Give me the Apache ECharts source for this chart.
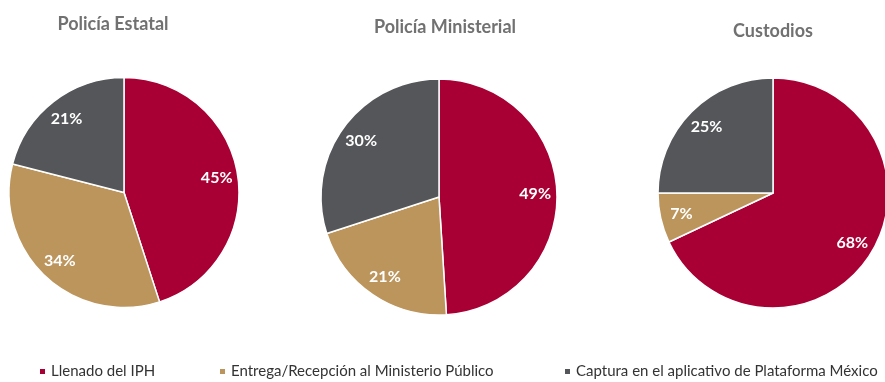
<!DOCTYPE html>
<html><head><meta charset="utf-8">
<script src="https://cdn.jsdelivr.net/npm/echarts@6/dist/echarts.min.js"></script>
<style>html,body{margin:0;padding:0;background:#fff}#c{width:885px;height:382px}</style>
</head><body><div id="c"></div>
<script>
const categories = ['Llenado del IPH', 'Entrega/Recepción al Ministerio Público', 'Captura en el aplicativo de Plataforma México'];
const chartTitles = ['Policía Estatal', 'Policía Ministerial', 'Custodios'];
const policiaEstatal = [45, 34, 21];
const policiaMinisterial = [49, 21, 30];
const custodios = [68, 7, 25];
const colors = ['#A80035', '#BC955C', '#55565A'];

const values = [policiaEstatal, policiaMinisterial, custodios];
const centers = [[124, 192.5], [439, 197], [773, 193]];
const radii = [115, 118, 115];
const titlePos = [[108, 19], [440, 22], [768, 26]];
const legendLeft = [38, 218, 563];
const FONT = 'Lato';

const chart = echarts.init(document.getElementById('c'), null, {renderer: 'canvas'});
const series = [];
values.forEach((vals, i) => {
  const data = vals.map((v, k) => ({name: categories[k], value: v}));
  series.push({
    type: 'pie', center: centers[i], radius: [0, radii[i]],
    startAngle: 90, clockwise: true, animation: false,
    data: data,
    itemStyle: {borderColor: '#fff', borderWidth: 1.5},
    label: {show: false}, labelLine: {show: false}
  });
  series.push({
    type: 'pie', center: centers[i], radius: [radii[i] * 0.58, radii[i]],
    startAngle: 90, clockwise: true, animation: false, silent: true,
    data: data,
    itemStyle: {color: 'rgba(0,0,0,0)', borderWidth: 0},
    label: {show: true, position: 'inside', formatter: '{c}%', color: '#fff',
            fontFamily: FONT, fontWeight: 'bold', fontSize: 16},
    labelLine: {show: false}, emphasis: {disabled: true}
  });
});

const option = {
  color: colors,
  title: chartTitles.map((t, i) => ({
    text: t, left: titlePos[i][0], top: titlePos[i][1], textAlign: 'center', textVerticalAlign: 'middle',
    textStyle: {fontFamily: FONT, fontWeight: 'bold', fontSize: 18, color: '#717171'}
  })),
  legend: categories.map((c, i) => ({
    data: [c], left: legendLeft[i], top: 364, icon: 'rect', itemWidth: 7, itemHeight: 7,
    itemGap: 0, padding: 0,
    textStyle: {fontFamily: FONT, fontSize: 15, color: '#333'}
  })),
  series: series
};
chart.setOption(option);
</script></body></html>
